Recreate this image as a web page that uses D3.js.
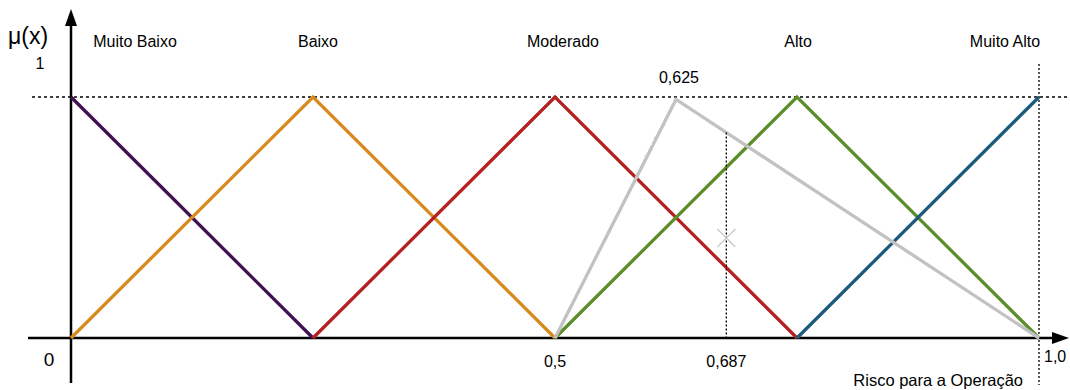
<!DOCTYPE html>
<html><head><meta charset="utf-8">
<script src="https://cdn.jsdelivr.net/npm/d3@7"></script>
<style>body{margin:0;background:#fff}svg{display:block}text{font-family:"Liberation Sans",Arial,sans-serif;fill:#000}</style>
</head><body><div id="chart"></div>
<script>
const setNames = ["Muito Baixo","Baixo","Moderado","Alto","Muito Alto"];
const muitoBaixo = [[0,1],[0.25,0]];
const baixo = [[0,0],[0.25,1],[0.5,0]];
const moderado = [[0.25,0],[0.5,1],[0.75,0]];
const alto = [[0.5,0],[0.75,1],[1,0]];
const muitoAlto = [[0.75,0],[1,1]];
const resultado = [[0.5,0],[0.625,0.99],[1,0]];
const setColors = ["#3f1150","#d98a1f","#b52020","#5b8e2b","#1c5a7b"];
const crispX = 0.677, crispY = 0.415;
const xTickVals = [0.5, 0.677];
const xTickLabels = ["0,5","0,687"];

const W=1070,H=390;
const svg=d3.select("#chart").append("svg").attr("width",W).attr("height",H);
const x=d3.scaleLinear().domain([0,1]).range([71,1039]);
const y=d3.scaleLinear().domain([0,1]).range([338,97]);
const line=d3.line().x(d=>x(d[0])).y(d=>y(d[1]));

// axes
svg.append("line").attr("x1",28).attr("x2",1056).attr("y1",y(0)).attr("y2",y(0)).attr("stroke","#000").attr("stroke-width",2.5);
svg.append("line").attr("x1",x(0)).attr("x2",x(0)).attr("y1",383).attr("y2",24).attr("stroke","#000").attr("stroke-width",2.5);
svg.append("path").attr("d",`M${x(0)-6},26 L${x(0)},9 L${x(0)+6},26 Z`).attr("fill","#000");
svg.append("path").attr("d",`M1052,${y(0)-6} L1069,${y(0)} L1052,${y(0)+6} Z`).attr("fill","#000");

// reference dotted lines
svg.append("line").attr("x1",32).attr("x2",1068).attr("y1",y(1)).attr("y2",y(1)).attr("stroke","#000").attr("stroke-width",1.3).attr("stroke-dasharray","3,3");
svg.append("line").attr("x1",x(1)).attr("x2",x(1)).attr("y1",64).attr("y2",385).attr("stroke","#000").attr("stroke-width",1.3).attr("stroke-dasharray","2,2");

const series=[muitoBaixo,baixo,moderado,alto,muitoAlto];
series.forEach((s,i)=>{
  svg.append("path").attr("d",line(s)).attr("fill","none").attr("stroke",setColors[i]).attr("stroke-width",3.3).attr("stroke-linejoin","miter");
});

// gray result
const defs=svg.append("defs");
const f=defs.append("filter").attr("id","rough");
f.append("feTurbulence").attr("type","fractalNoise").attr("baseFrequency",0.9).attr("numOctaves",1).attr("result","n");
f.append("feDisplacementMap").attr("in","SourceGraphic").attr("in2","n").attr("scale",2);
svg.append("path").attr("d",line(resultado)).attr("fill","none").attr("stroke","#c2c2c2").attr("stroke-width",3.3).attr("filter","url(#rough)");

// crisp line
const gy=resultado[1][1]*(1-crispX)/(1-resultado[1][0]);
svg.append("line").attr("x1",x(crispX)).attr("x2",x(crispX)).attr("y1",y(gy)).attr("y2",y(0)).attr("stroke","#000").attr("stroke-width",1.3).attr("stroke-dasharray","2,2");
const cx=x(crispX),cy=y(crispY);
svg.append("path").attr("d",`M${cx-9},${cy-9}L${cx+9},${cy+9}M${cx-9},${cy+9}L${cx+9},${cy-9}`).attr("stroke","#c8c8c8").attr("stroke-width",1.2);

// labels
svg.selectAll(".sn").data(setNames).enter().append("text")
 .attr("x",(d,i)=>[135,318,563,798,1005][i]).attr("y",47).attr("text-anchor","middle").attr("font-size",16).text(d=>d);
svg.append("text").attr("x",679).attr("y",83).attr("text-anchor","middle").attr("font-size",16).text("0,625");
svg.append("text").attr("x",8).attr("y",44).attr("font-size",23).text("μ(x)");
svg.append("text").attr("x",40).attr("y",69).attr("text-anchor","middle").attr("font-size",16).text("1");
svg.append("text").attr("x",49).attr("y",366).attr("text-anchor","middle").attr("font-size",19).text("0");
xTickVals.forEach((v,i)=>{
  svg.append("text").attr("x",x(v)).attr("y",367).attr("text-anchor","middle").attr("font-size",16).text(xTickLabels[i]);
});
svg.append("text").attr("x",1044).attr("y",362).attr("font-size",16).text("1,0");
svg.append("text").attr("x",1023).attr("y",386).attr("text-anchor","end").attr("font-size",16.5).text("Risco para a Operação");
</script></body></html>
